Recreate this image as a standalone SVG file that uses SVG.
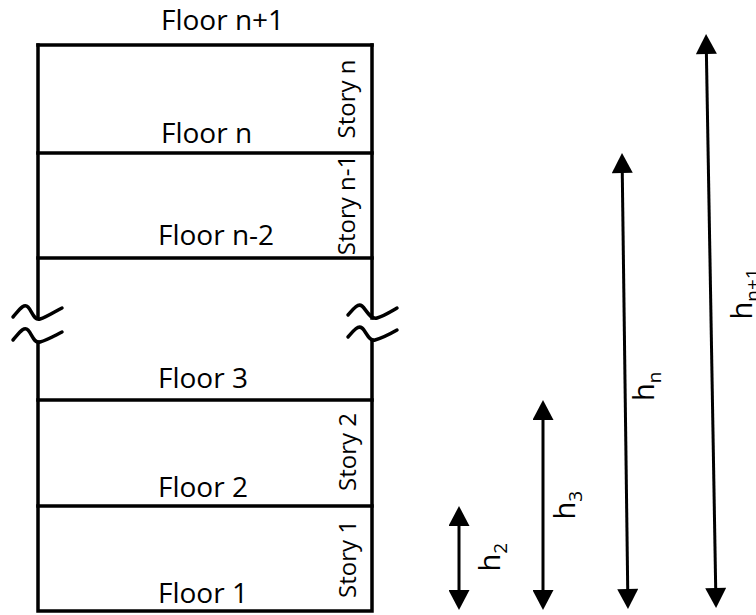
<svg xmlns="http://www.w3.org/2000/svg" width="756" height="615" viewBox="0 0 756 615">
<style>
.w{stroke:#000;stroke-width:3.5;fill:none;stroke-linecap:square}
.brk{stroke:#000;stroke-width:3.5;fill:none;stroke-linecap:round}
.fl{font-family:"Open Sans","Liberation Sans",sans-serif;font-size:28px;fill:#000}
.st{font-family:"Open Sans","Liberation Sans",sans-serif;font-size:24px;fill:#000;text-anchor:middle}
.h{font-family:"Open Sans","Liberation Sans",sans-serif;font-size:29px;fill:#000}
.sub{font-size:19px}
.ar{stroke:#000;stroke-width:3;fill:none}
</style>
<defs>
<marker id="ah" markerUnits="userSpaceOnUse" markerWidth="21" markerHeight="21" viewBox="0 0 20 21" refX="6" refY="10.5" orient="auto-start-reverse">
<path d="M0,0 L20,10.5 L0,21 Z" fill="#000"/>
</marker>
</defs>
<g id="building">
<path class="w" d="M38,45 H372"/>
<path class="w" d="M38,45 V318 M38,342 V611 H372 V340 M372,318 V45"/>
<path class="w" d="M38,153 H372 M38,258 H372 M38,400 H372 M38,506 H372"/>
<path class="brk" d="M13,317 C20,309 24,303 28,307 C32,311 34,321 40,319 C47,317 54,312 62,308"/>
<path class="brk" d="M13,340 C20,332 24,326 28,330 C32,334 34,344 40,342 C47,340 54,336 62,332"/>
<path class="brk" d="M348,315 C354,308 358,303 362,306 C366,309 370,320 377,318 C384,316 390,312 397,308"/>
<path class="brk" d="M348,337 C354,330 358,325 362,328 C366,331 369,342 375,340 C382,338 390,334 397,330"/>
</g>
<g id="floor-labels">
<text class="fl" x="161" y="30">Floor n+1</text>
<text class="fl" x="161" y="143">Floor n</text>
<text class="fl" x="158" y="245">Floor n-2</text>
<text class="fl" x="158" y="388">Floor 3</text>
<text class="fl" x="158" y="497">Floor 2</text>
<text class="fl" x="158" y="603">Floor 1</text>
</g>
<g id="story-labels">
<text class="st" transform="translate(355,99) rotate(-90)">Story n</text>
<text class="st" transform="translate(355,205) rotate(-90)">Story n-1</text>
<text class="st" transform="translate(356,452) rotate(-90)">Story 2</text>
<text class="st" transform="translate(356,559) rotate(-90)">Story 1</text>
</g>
<g id="connectors">
<line class="ar" x1="459" y1="520" x2="459" y2="596" marker-start="url(#ah)" marker-end="url(#ah)"/>
<line class="ar" x1="543" y1="414" x2="543" y2="596" marker-start="url(#ah)" marker-end="url(#ah)"/>
<line class="ar" x1="622.2" y1="167" x2="627.8" y2="595" marker-start="url(#ah)" marker-end="url(#ah)"/>
<line class="ar" x1="706.3" y1="48" x2="715.8" y2="594" marker-start="url(#ah)" marker-end="url(#ah)"/>
</g>
<g id="height-labels">
<text class="h" transform="translate(500,571.5) rotate(-90)">h<tspan class="sub" dy="7">2</tspan></text>
<text class="h" transform="translate(575,519.5) rotate(-90)">h<tspan class="sub" dy="7">3</tspan></text>
<text class="h" transform="translate(654,401) rotate(-90)">h<tspan class="sub" dy="7">n</tspan></text>
<text class="h" transform="translate(752,319.5) rotate(-90)">h<tspan class="sub" dy="7">n+1</tspan></text>
</g>
</svg>
